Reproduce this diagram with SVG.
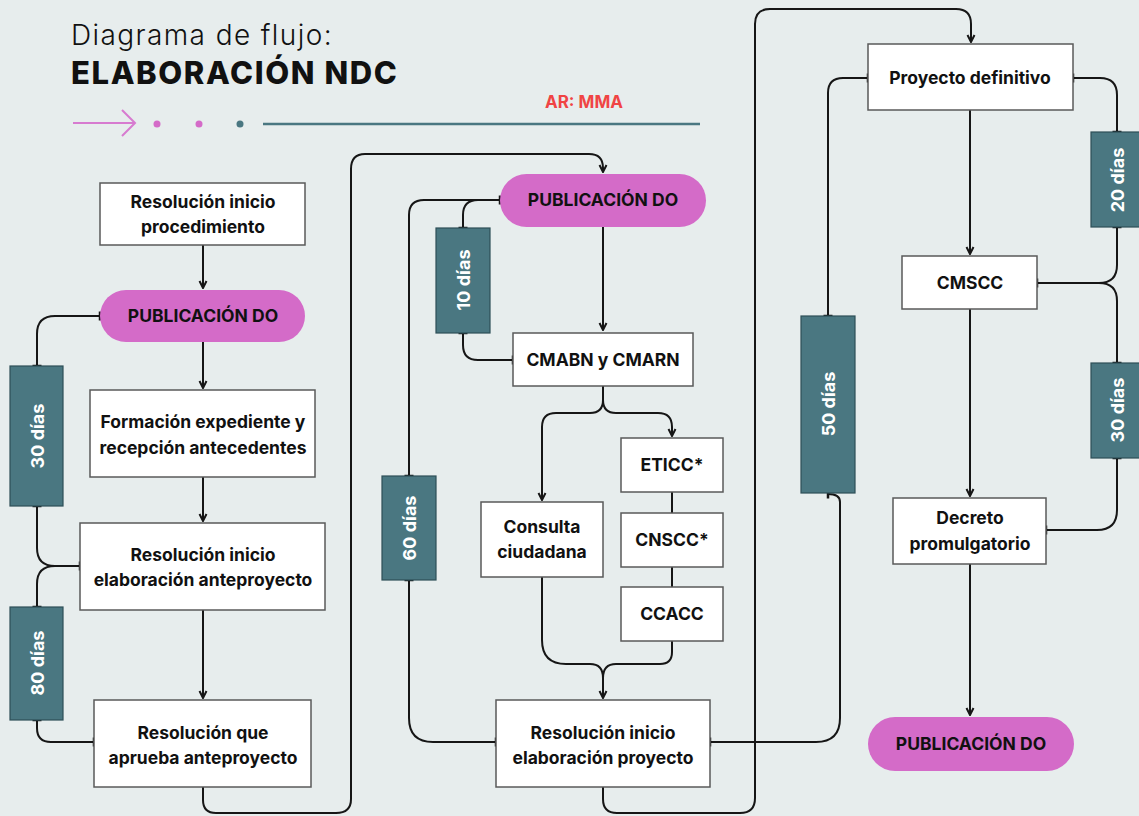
<svg xmlns="http://www.w3.org/2000/svg" width="1139" height="816" viewBox="0 0 1139 816">
<style>
.box{fill:#ffffff;stroke:#5a5a5a;stroke-width:1.5}
.pill{fill:#d46bc8}
.bar{fill:#4a7781;stroke:#2e4f57;stroke-width:1.2}
.t{font-family:Inter,"Noto Sans",sans-serif;font-weight:700;font-size:17.5px;fill:#111;text-anchor:middle}
.bt{font-family:Inter,"Noto Sans",sans-serif;font-weight:700;font-size:18px;fill:#ffffff;text-anchor:middle}
.c{fill:none;stroke:#161616;stroke-width:2}
.a{marker-end:url(#arr)}
.k{marker-start:url(#tick);marker-end:url(#tick)}
.ke{marker-end:url(#tick)}
</style>
<defs>
<marker id="arr" viewBox="0 0 10 10" refX="9" refY="5" markerWidth="10" markerHeight="10" markerUnits="userSpaceOnUse" orient="auto">
<path d="M2,1.5 L9,5 L2,8.5" fill="none" stroke="#161616" stroke-width="2"/>
</marker>
<marker id="tick" viewBox="-2 -6 4 12" refX="0" refY="0" markerWidth="4" markerHeight="12" markerUnits="userSpaceOnUse" orient="auto">
<path d="M0,-4.5 V4.5" stroke="#161616" stroke-width="2.5"/>
</marker>
</defs>
<rect width="1139" height="816" fill="#e7eded"/>

<g id="header">
<text x="71" y="45" font-family="Inter,'Noto Sans',sans-serif" font-size="28" font-weight="300" letter-spacing="1.4" fill="#111">Diagrama de flujo:</text>
<text x="71" y="84" font-family="Inter,'Noto Sans',sans-serif" font-size="31" font-weight="800" letter-spacing="1.6" fill="#111">ELABORACIÓN NDC</text>
<text x="545" y="108" font-family="Inter,'Noto Sans',sans-serif" font-size="17" font-weight="700" fill="#f04444">AR: MMA</text>
<path d="M73,123 H135 M122,110 L135,123 L122,136" fill="none" stroke="#d77bd0" stroke-width="2"/>
<circle cx="157" cy="124" r="3.5" fill="#d46bc8"/>
<circle cx="199" cy="124" r="3.5" fill="#d46bc8"/>
<circle cx="240" cy="124" r="3.5" fill="#4a7781"/>
<path d="M263,124 H700" stroke="#4a7781" stroke-width="2.5"/>
</g>

<g id="connectors">
<path class="c a" d="M203,245 V288"/>
<path class="c a" d="M203,342 V388"/>
<path class="c a" d="M203,477 V521"/>
<path class="c a" d="M203,610 V698"/>
<path class="c k" d="M100,316 H55 Q37,316 37,334 V366"/>
<path class="c k" d="M37,506 V548 Q37,566 55,566 H80"/>
<path class="c ke" d="M55,566 Q37,566 37,584 V607"/>
<path class="c k" d="M37,720 V728 Q37,742 51,742 H94"/>
<path class="c a" d="M203,787 V800 Q203,813 216,813 H336 Q351,813 351,799 V169 Q351,154 365,154 H589 Q603,154 603,168 V172"/>

<path class="c a" d="M603,227 V330"/>
<path class="c k" d="M500,200 H478 Q463,200 463,215 V228"/>
<path class="c ke" d="M478,200 H424 Q409,200 409,215 V476"/>
<path class="c k" d="M463,333 V345 Q463,360 478,360 H513"/>
<path class="c a" d="M603,386 V400 Q603,413 590,413 H556 Q542,413 542,427 V500"/>
<path class="c a" d="M603,400 Q603,413 616,413 H658 Q672,413 672,427 V436"/>
<path class="c" d="M672,492 V513 M672,567 V587"/>
<path class="c a" d="M542,577 V640 Q542,664 566,664 H590 Q603,664 603,678 V698"/>
<path class="c" d="M672,641 V652 Q672,664 660,664 H616 Q603,664 603,678"/>
<path class="c k" d="M409,580 V718 Q409,742 433,742 H496"/>
<path class="c k" d="M710,742 H816 Q840,742 840,718 V502 Q840,494 828,494"/>
<path class="c a" d="M603,787 V799 Q603,813 617,813 H740 Q755,813 755,798 V24 Q755,9 770,9 H956 Q971,9 971,24 V42"/>

<path class="c a" d="M970,110 V254"/>
<path class="c a" d="M970,309 V496"/>
<path class="c a" d="M970,564 V715"/>
<path class="c k" d="M868,78 H843 Q828,78 828,93 V316"/>
<path class="c k" d="M1073,78 H1100 Q1117,78 1117,95 V132"/>
<path class="c k" d="M1117,227 V265 Q1117,283 1099,283 H1037"/>
<path class="c ke" d="M1099,283 Q1117,283 1117,301 V363"/>
<path class="c k" d="M1117,458 V510 Q1117,530 1097,530 H1046"/>
</g>

<g id="n_res_inicio_proc"><rect class="box" x="100" y="183" width="205" height="62"/><text class="t" x="203" y="208">Resolución inicio</text><text class="t" x="203" y="233">procedimiento</text></g>
<g id="n_pub1"><rect class="pill" x="100" y="290" width="205" height="52" rx="26"/><text class="t" x="203" y="322">PUBLICACIÓN DO</text></g>
<g id="n_formacion"><rect class="box" x="90" y="390" width="225" height="87"/><text class="t" x="203" y="428">Formación expediente y</text><text class="t" x="203" y="454">recepción antecedentes</text></g>
<g id="n_res_anteproy"><rect class="box" x="80" y="523" width="245" height="87"/><text class="t" x="203" y="561">Resolución inicio</text><text class="t" x="203" y="586">elaboración anteproyecto</text></g>
<g id="n_res_aprueba"><rect class="box" x="94" y="700" width="217" height="87"/><text class="t" x="203" y="739">Resolución que</text><text class="t" x="203" y="764">aprueba anteproyecto</text></g>
<g id="b_30a"><rect class="bar" x="10" y="366" width="53" height="140"/><text class="bt" transform="translate(37,436) rotate(-90)" y="6.5">30 días</text></g>
<g id="b_80"><rect class="bar" x="10" y="607" width="53" height="113"/><text class="bt" transform="translate(37,663) rotate(-90)" y="6.5">80 días</text></g>

<g id="n_pub2"><rect class="pill" x="500" y="174" width="206" height="53" rx="26.5"/><text class="t" x="603" y="206">PUBLICACIÓN DO</text></g>
<g id="b_10"><rect class="bar" x="436" y="228" width="54" height="105"/><text class="bt" transform="translate(463,280) rotate(-90)" y="6.5">10 días</text></g>
<g id="n_cmabn"><rect class="box" x="513" y="333" width="180" height="53"/><text class="t" x="603" y="366">CMABN y CMARN</text></g>
<g id="n_consulta"><rect class="box" x="481" y="502" width="122" height="75"/><text class="t" x="542" y="533">Consulta</text><text class="t" x="542" y="558">ciudadana</text></g>
<g id="n_eticc"><rect class="box" x="621" y="438" width="102" height="54"/><text class="t" x="672" y="471">ETICC*</text></g>
<g id="n_cnscc"><rect class="box" x="621" y="513" width="102" height="54"/><text class="t" x="672" y="546">CNSCC*</text></g>
<g id="n_ccacc"><rect class="box" x="621" y="587" width="102" height="54"/><text class="t" x="672" y="620">CCACC</text></g>
<g id="b_60"><rect class="bar" x="382" y="476" width="54" height="104"/><text class="bt" transform="translate(409,528) rotate(-90)" y="6.5">60 días</text></g>
<g id="n_res_proy"><rect class="box" x="496" y="700" width="214" height="87"/><text class="t" x="603" y="739">Resolución inicio</text><text class="t" x="603" y="764">elaboración proyecto</text></g>

<g id="n_proy_def"><rect class="box" x="868" y="44" width="205" height="66"/><text class="t" x="970" y="84">Proyecto definitivo</text></g>
<g id="n_cmscc"><rect class="box" x="902" y="256" width="135" height="53"/><text class="t" x="970" y="289">CMSCC</text></g>
<g id="n_decreto"><rect class="box" x="893" y="498" width="153" height="66"/><text class="t" x="970" y="524">Decreto</text><text class="t" x="970" y="550">promulgatorio</text></g>
<g id="n_pub3"><rect class="pill" x="868" y="717" width="206" height="54" rx="27"/><text class="t" x="971" y="750">PUBLICACIÓN DO</text></g>
<g id="b_50"><rect class="bar" x="801" y="316" width="54" height="177"/><text class="bt" transform="translate(828,404) rotate(-90)" y="6.5">50 días</text></g>
<g id="b_20"><rect class="bar" x="1091" y="132" width="54" height="95"/><text class="bt" transform="translate(1117,180) rotate(-90)" y="6.5">20 días</text></g>
<g id="b_30b"><rect class="bar" x="1091" y="363" width="54" height="95"/><text class="bt" transform="translate(1117,410) rotate(-90)" y="6.5">30 días</text></g>
</svg>
